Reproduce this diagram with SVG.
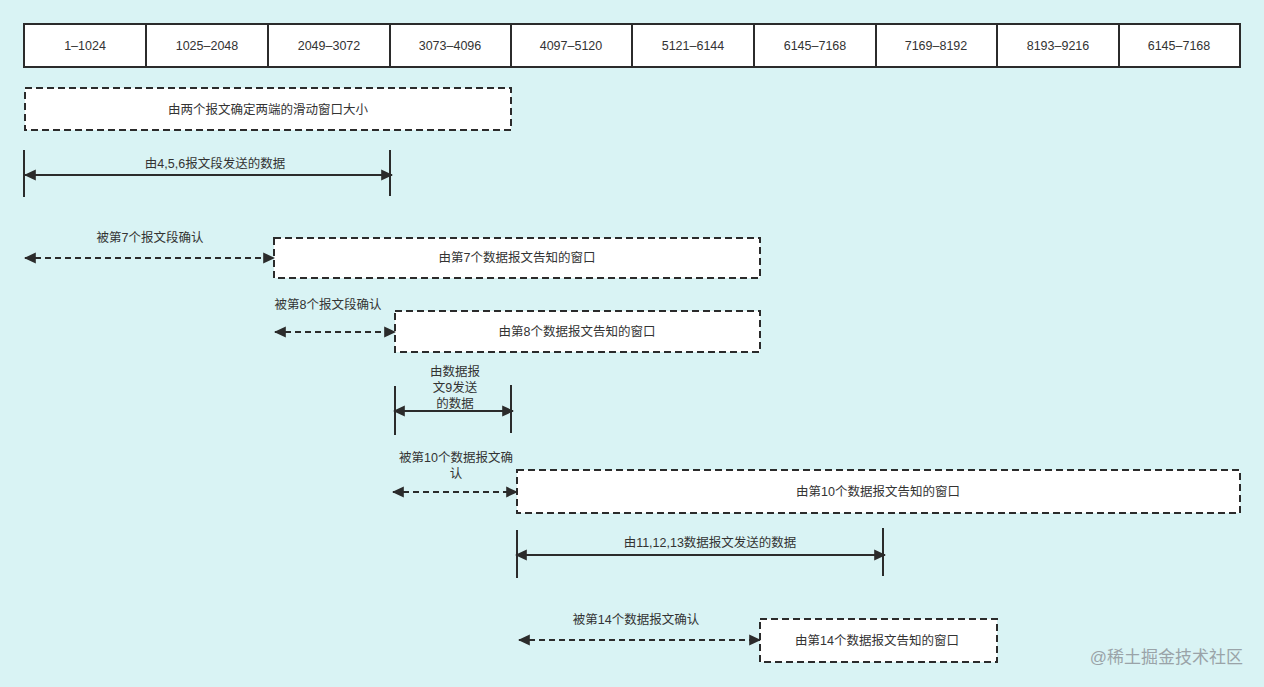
<svg xmlns="http://www.w3.org/2000/svg" width="1264" height="687" viewBox="0 0 1264 687">
<defs>
<marker id="ah" viewBox="0 0 10 10" refX="9" refY="5" markerWidth="6" markerHeight="6" orient="auto-start-reverse" markerUnits="strokeWidth">
<path d="M0,0.5 L10,5 L0,9.5 z" fill="#2b2b2b"/>
</marker>
<style>
text{font-family:"Liberation Sans","Noto Sans CJK SC",sans-serif;font-size:12.5px;fill:#333;text-anchor:middle;dominant-baseline:central}
.cell{fill:#fff;stroke:#2b2b2b;stroke-width:2}
.dbox{fill:#fff;stroke:#2b2b2b;stroke-width:2;stroke-dasharray:7 4}
.line{stroke:#2b2b2b;stroke-width:2;fill:none;marker-start:url(#ah);marker-end:url(#ah)}
.dline{stroke:#2b2b2b;stroke-width:2;fill:none;stroke-dasharray:6 4;marker-start:url(#ah);marker-end:url(#ah)}
.tick{stroke:#2b2b2b;stroke-width:2}
.wm{font-size:17px;fill:#9aa3a8;text-anchor:end}
</style>
</defs>
<rect width="1264" height="687" fill="#d9f3f4"/>
<g id="ruler">
<rect class="cell" x="24" y="24" width="122" height="43"/><text x="85" y="46">1–1024</text>
<rect class="cell" x="146" y="24" width="122" height="43"/><text x="207" y="46">1025–2048</text>
<rect class="cell" x="268" y="24" width="122" height="43"/><text x="329" y="46">2049–3072</text>
<rect class="cell" x="390" y="24" width="121" height="43"/><text x="450" y="46">3073–4096</text>
<rect class="cell" x="511" y="24" width="121" height="43"/><text x="571" y="46">4097–5120</text>
<rect class="cell" x="632" y="24" width="122" height="43"/><text x="693" y="46">5121–6144</text>
<rect class="cell" x="754" y="24" width="122" height="43"/><text x="815" y="46">6145–7168</text>
<rect class="cell" x="876" y="24" width="121" height="43"/><text x="936" y="46">7169–8192</text>
<rect class="cell" x="997" y="24" width="122" height="43"/><text x="1058" y="46">8193–9216</text>
<rect class="cell" x="1119" y="24" width="121" height="43"/><text x="1179" y="46">6145–7168</text>
</g>
<g id="box1"><rect class="dbox" x="25" y="88" width="486" height="42"/><text x="268" y="110">由两个报文确定两端的滑动窗口大小</text></g>
<g id="box7"><rect class="dbox" x="274" y="238" width="486" height="40"/><text x="517" y="258">由第7个数据报文告知的窗口</text></g>
<g id="box8"><rect class="dbox" x="395" y="311" width="365" height="41"/><text x="577" y="332">由第8个数据报文告知的窗口</text></g>
<g id="box10"><rect class="dbox" x="517" y="470" width="723" height="43"/><text x="878" y="492">由第10个数据报文告知的窗口</text></g>
<g id="box14"><rect class="dbox" x="760" y="619" width="237" height="43"/><text x="877" y="641">由第14个数据报文告知的窗口</text></g>
<g id="connectors">
<line class="tick" x1="24" y1="150" x2="24" y2="197"/>
<line class="tick" x1="390" y1="150" x2="390" y2="196"/>
<line class="line" x1="25" y1="175" x2="392" y2="175"/>
<text x="215" y="164">由4,5,6报文段发送的数据</text>

<line class="dline" x1="25" y1="258" x2="274" y2="258"/>
<text x="150" y="238">被第7个报文段确认</text>

<line class="dline" x1="275" y1="332" x2="395" y2="332"/>
<text x="328" y="305">被第8个报文段确认</text>

<line class="tick" x1="395" y1="386" x2="395" y2="435"/>
<line class="tick" x1="511" y1="385" x2="511" y2="433"/>
<line class="line" x1="394" y1="411" x2="513" y2="411"/>
<text x="455" y="372">由数据报</text>
<text x="455" y="388">文9发送</text>
<text x="455" y="404">的数据</text>

<line class="dline" x1="393" y1="492" x2="517" y2="492"/>
<text x="456" y="458">被第10个数据报文确</text>
<text x="456" y="474">认</text>

<line class="tick" x1="517" y1="530" x2="517" y2="578"/>
<line class="tick" x1="883" y1="528" x2="883" y2="576"/>
<line class="line" x1="516" y1="555" x2="885" y2="555"/>
<text x="710" y="543">由11,12,13数据报文发送的数据</text>

<line class="dline" x1="519" y1="640" x2="760" y2="640"/>
<text x="636" y="620">被第14个数据报文确认</text>
</g>
<text class="wm" x="1243" y="657">@稀土掘金技术社区</text>
</svg>
